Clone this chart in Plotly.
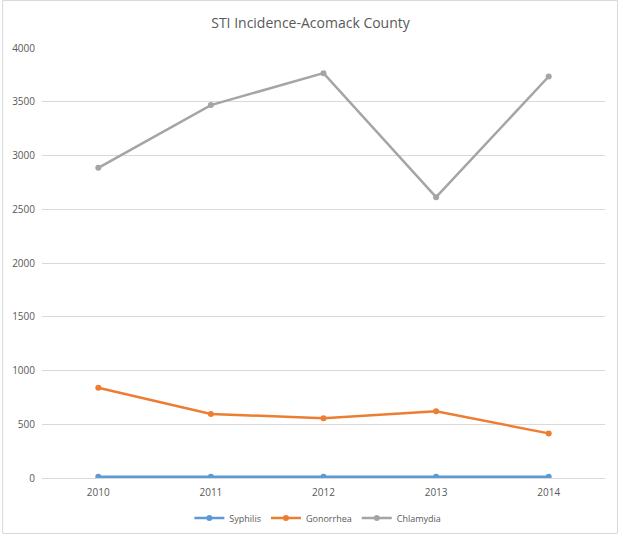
import plotly.graph_objects as go

years = ["2010", "2011", "2012", "2013", "2014"]
syphilis = [12, 12, 12, 12, 12]
gonorrhea = [840, 596, 556, 620, 415]
chlamydia = [2885, 3469, 3766, 2612, 3735]
y_ticks = [0, 500, 1000, 1500, 2000, 2500, 3000, 3500, 4000]

W, H = 621, 535
L, R, T, B = 40, 16, 48, 57
pw, ph = W - L - R, H - T - B
H_LAYOUT = H + 10

fig = go.Figure()
series = [("Syphilis", syphilis, "#5B9BD5"),
          ("Gonorrhea", gonorrhea, "#ED7D31"),
          ("Chlamydia", chlamydia, "#A5A5A5")]
for name, vals, col in series:
    fig.add_trace(go.Scatter(x=years, y=vals, name=name, mode="lines+markers",
                             line=dict(color=col, width=2.5),
                             marker=dict(color=col, size=6)))

fig.update_layout(
    width=W, height=H_LAYOUT,
    margin=dict(l=L, r=R, t=T, b=B),
    paper_bgcolor="white", plot_bgcolor="white",
    font=dict(family="Open Sans", size=9, color="#595959"),
    title=dict(text="STI Incidence-Acomack County", x=0.5, xanchor="center",
               y=1 - 23 / H, yanchor="middle",
               font=dict(family="Open Sans", size=14, color="#595959")),
    xaxis=dict(type="category", range=[-0.5, 4.5], showgrid=False,
               showline=True, linecolor="#D9D9D9", linewidth=1,
               ticks="", ticklabelstandoff=5,
               tickfont=dict(size=10, color="#595959")),
    yaxis=dict(range=[0, 4000], tickvals=y_ticks, showgrid=True,
               gridcolor="#D9D9D9", gridwidth=1, zeroline=False,
               ticks="", ticklabelstandoff=6,
               tickfont=dict(size=10, color="#595959")),
    legend=dict(orientation="h", x=0.49, xanchor="center",
                y=-(518 - 478) / ph, yanchor="middle",
                font=dict(size=9, color="#595959"), itemwidth=30),
    showlegend=True,
)

fig.add_shape(type="rect", xref="paper", yref="paper",
              x0=-(L - 0.5) / pw, x1=(617.5 - L) / pw,
              y0=-(533.5 - 478) / ph, y1=(478 - 0.5) / ph,
              line=dict(color="#D9D9D9", width=1), layer="below")

post = "document.body.style.margin='0';document.body.style.overflow='hidden';"
fig.write_html("out.html", config={"displayModeBar": False}, post_script=post)
